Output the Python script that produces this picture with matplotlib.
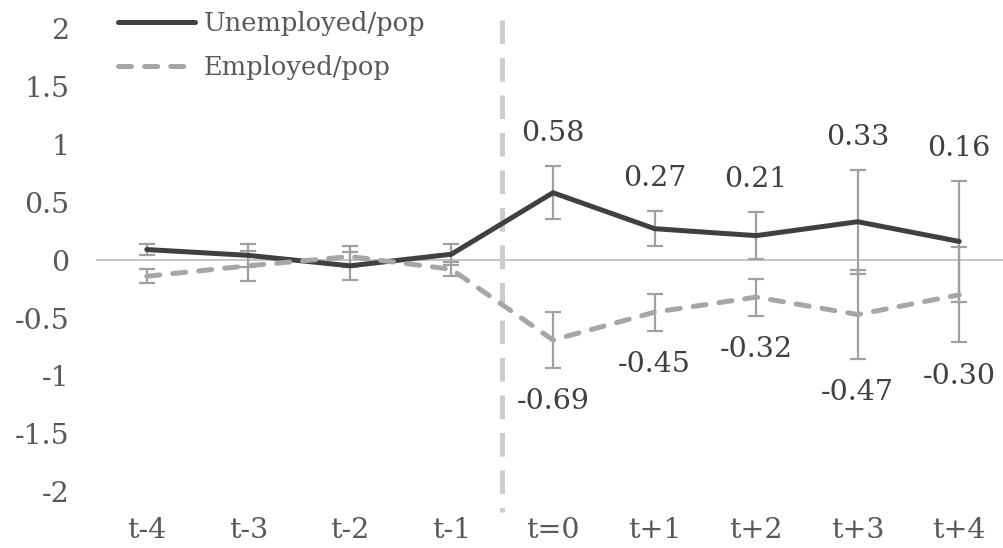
import matplotlib
matplotlib.use("Agg")
import matplotlib.pyplot as plt
from matplotlib.lines import Line2D
from matplotlib.ticker import FuncFormatter

# data
periods = ["t-4", "t-3", "t-2", "t-1", "t=0", "t+1", "t+2", "t+3", "t+4"]
unemp = [0.09, 0.04, -0.05, 0.05, 0.58, 0.27, 0.21, 0.33, 0.16]
unemp_err = [0.05, 0.10, 0.12, 0.09, 0.23, 0.15, 0.20, 0.45, 0.52]
emp = [-0.14, -0.05, 0.03, -0.08, -0.69, -0.45, -0.32, -0.47, -0.30]
emp_err = [0.06, 0.13, 0.09, 0.06, 0.24, 0.16, 0.16, 0.38, 0.41]
labelled_from = 4  # values are printed from t=0 on

plt.rcParams['font.family'] = ['DejaVu Serif']
plt.rcParams['lines.scale_dashes'] = False

dark = "#404040"
grey = "#a6a6a6"
txt = "#595959"

fig = plt.figure(figsize=(10.04, 5.48), dpi=100)
ax = fig.add_axes([96 / 1004, 32.8 / 548, 914 / 1004, 510.4 / 548])
x = list(range(len(periods)))

ax.axhline(0, color="#c0c0c0", lw=1.3, zorder=1)
ax.plot([3.5, 3.5], [2.07, -2.17], color="#cccccc", lw=3.6,
        dashes=(17, 10), zorder=1)

ax.errorbar(x, unemp, yerr=unemp_err, fmt="none", ecolor="#a0a0a0",
            elinewidth=1.6, capsize=5.5, capthick=1.6, zorder=2)
ax.errorbar(x, emp, yerr=emp_err, fmt="none", ecolor="#a0a0a0",
            elinewidth=1.6, capsize=5.5, capthick=1.6, zorder=2)

ax.plot(x, unemp, color=dark, lw=3.6, solid_capstyle="round",
        solid_joinstyle="round", zorder=3)
ax.plot(x, emp, color=grey, lw=3.6, dashes=(9.4, 9.4),
        dash_capstyle="round", zorder=3)

for i in range(labelled_from, len(periods)):
    ax.text(i, unemp[i] + unemp_err[i] + 0.28, "%.2f" % unemp[i],
            ha="center", va="center", fontsize=20.5, color=dark)
    ax.text(i, emp[i] - emp_err[i] - 0.29, ("%.2f" % emp[i]),
            ha="center", va="center", fontsize=20.5, color=dark)

ax.set_xlim(-0.5, len(periods) - 0.5)
ax.set_ylim(-2.2, 2.2)
ax.set_xticks(x)
ax.set_xticklabels(periods)
ax.set_yticks([-2, -1.5, -1, -0.5, 0, 0.5, 1, 1.5, 2])
ax.yaxis.set_major_formatter(FuncFormatter(lambda v, p: ("%g" % v)))
ax.tick_params(axis="both", length=0, labelsize=20.5, labelcolor=txt)
ax.tick_params(axis="y", pad=19)
ax.tick_params(axis="x", pad=1)
for s in ax.spines.values():
    s.set_visible(False)

handles = [Line2D([], [], color=dark, lw=3.6, solid_capstyle="round"),
           Line2D([], [], color=grey, lw=3.6, dashes=(9.4, 9.4),
                  dash_capstyle="round")]
fig.legend(handles, ["Unemployed/pop", "Employed/pop"], loc="upper left",
           bbox_to_anchor=(118 / 1004, 1 - 11 / 548), frameon=False,
           fontsize=18.5, labelcolor=txt, handlelength=3.0,
           handletextpad=0.35, labelspacing=0.75, borderpad=0,
           borderaxespad=0)

fig.savefig("out.png", dpi=100)
